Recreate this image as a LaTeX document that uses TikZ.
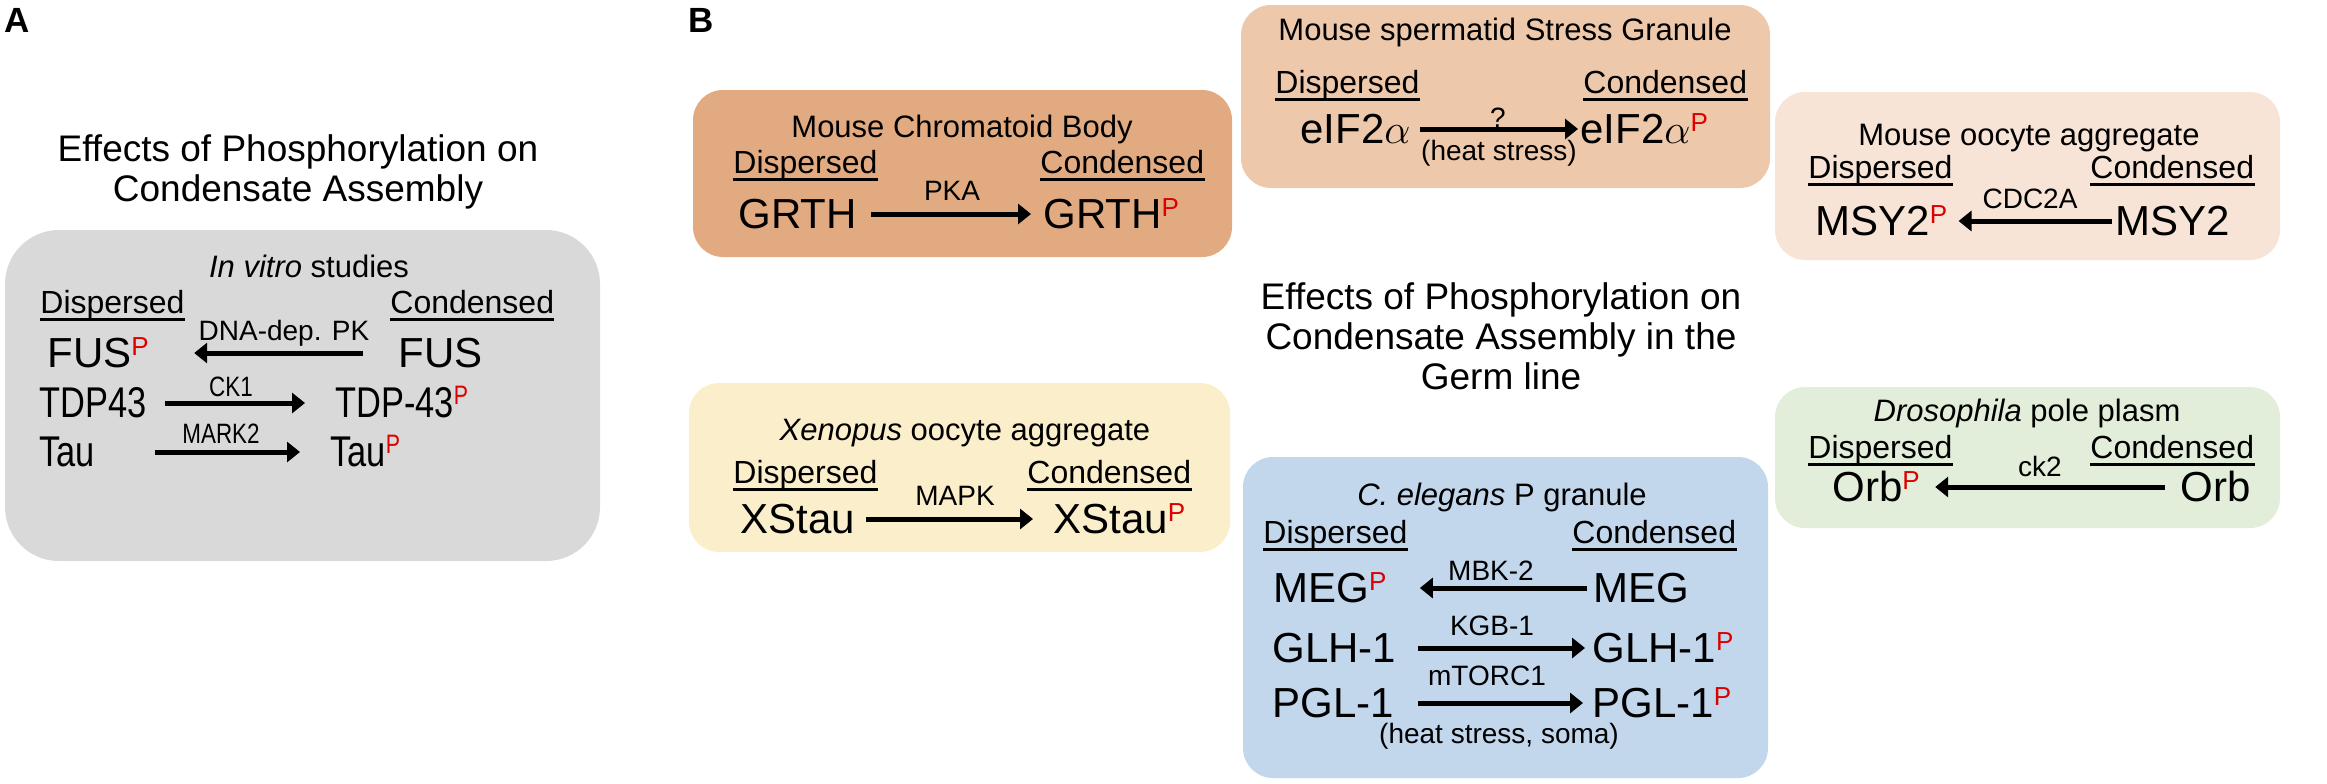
\documentclass[tikz,border=0pt]{standalone}
\usepackage{fontspec}
\setmainfont{Liberation Sans}
\newfontfamily\narrowsf[FakeStretch=0.8]{Liberation Sans}
\usetikzlibrary{arrows.meta}

\definecolor{pred}{RGB}{220,0,0}
\definecolor{boxgray}{RGB}{217,217,217}
\definecolor{boxbrown}{RGB}{226,170,128}
\definecolor{boxpeach}{RGB}{238,200,170}
\definecolor{boxcream}{RGB}{247,228,214}
\definecolor{boxyellow}{RGB}{251,238,203}
\definecolor{boxblue}{RGB}{194,214,236}
\definecolor{boxgreen}{RGB}{226,238,217}

\newcommand{\phos}{\textcolor{pred}{\raisebox{.28em}{\scalebox{.62}{P}}}}

\tikzset{
  panel/.style={rounded corners=15pt},
  letter/.style={anchor=base west,font=\fontsize{17.5}{17.5}\selectfont\bfseries},
  bigtitle/.style={anchor=north,align=center,font=\fontsize{18.5}{20}\selectfont},
  sub/.style={anchor=base,font=\fontsize{15.5}{15.5}\selectfont},
  hdr/.style={anchor=base west,text depth=0pt,font=\fontsize{16}{16}\selectfont},
  mol/.style={anchor=base west,text height=14pt,text depth=0pt,font=\fontsize{21}{21}\selectfont},
  nmol/.style={mol,font=\narrowsf\fontsize{21.5}{21.5}\selectfont},
  kin/.style={anchor=base,font=\fontsize{14}{14}\selectfont},
  nkin/.style={kin,font=\narrowsf\fontsize{14}{14}\selectfont},
  uline/.style={line width=1.5pt},
  parrow/.style={line width=2.5pt,-{Triangle[length=6.5pt,width=10pt]}}
}

\begin{document}
\begin{tikzpicture}[x=0.5pt,y=-0.5pt,every node/.style={inner sep=0}]
\useasboundingbox (0,0) rectangle (2327,783);

% panel A
\node[letter] (lA) at (4,32) {A};
\node[bigtitle] (tA) at (298,134) {Effects of Phosphorylation on\\Condensate Assembly};
\fill[boxgray,rounded corners=27pt] (5,230) rectangle (600,561);
\node[sub] (vitro) at (309,277) {\textit{In vitro} studies};
\node[hdr] (dA) at (40,313) {Dispersed};
\node[hdr] (cA) at (390,313) {Condensed};
\node[mol] (fusP) at (47,367) {FUS\phos};
\node[mol] (fus) at (398,367) {FUS};
\node[kin] (dnapk) at (284,340) {DNA-dep. PK};
\node[nmol] (tdp) at (39,417) {TDP43};
\node[nmol] (tdpP) at (335,417) {TDP-43\phos};
\node[nkin] (ck1) at (231,396) {CK1};
\node[nmol] (tau) at (39,466) {Tau};
\node[nmol] (tauP) at (330,466) {Tau\phos};
\node[nkin] (mark2) at (221,443) {MARK2};

% panel B
\node[letter] (lB) at (688,32) {B};
\node[bigtitle] (tB) at (1501,282) {Effects of Phosphorylation on\\Condensate Assembly in the\\Germ line};

% mouse chromatoid body
\fill[boxbrown,panel] (693,90) rectangle (1232,257);
\node[sub] (cbT) at (962,137) {Mouse Chromatoid Body};
\node[hdr] (cbD) at (733,173) {Dispersed};
\node[hdr] (cbC) at (1040,173) {Condensed};
\node[mol] (grth) at (738,228) {GRTH};
\node[mol] (grthP) at (1043,228) {GRTH\phos};
\node[kin] (pka) at (952,200) {PKA};

% mouse spermatid stress granule
\fill[boxpeach,panel] (1241,5) rectangle (1770,188);
\node[sub] (sgT) at (1505,40) {Mouse spermatid Stress Granule};
\node[hdr] (sgD) at (1275,93) {Dispersed};
\node[hdr] (sgC) at (1583,93) {Condensed};
\node[mol] (eif) at (1300,143) {eIF2$\alpha$};
\node[mol] (eifP) at (1580,143) {eIF2$\alpha$\phos};
\node[kin] (unk) at (1498,127) {?};
\node[kin] (heat) at (1499,160) {(heat stress)};

% mouse oocyte aggregate
\fill[boxcream,panel] (1775,92) rectangle (2280,260);
\node[sub] (moT) at (2029,145) {Mouse oocyte aggregate};
\node[hdr] (moD) at (1808,178) {Dispersed};
\node[hdr] (moC) at (2090,178) {Condensed};
\node[mol] (msyP) at (1815,235) {MSY2\phos};
\node[mol] (msy) at (2115,235) {MSY2};
\node[kin] (cdc) at (2030,208) {CDC2A};

% xenopus oocyte aggregate
\fill[boxyellow,panel] (689,383) rectangle (1230,552);
\node[sub] (xoT) at (965,440) {\textit{Xenopus} oocyte aggregate};
\node[hdr] (xoD) at (733,483) {Dispersed};
\node[hdr] (xoC) at (1027,483) {Condensed};
\node[mol] (xs) at (740,533) {XStau};
\node[mol] (xsP) at (1053,533) {XStau\phos};
\node[kin] (mapk) at (955,505) {MAPK};

% c. elegans p granule
\fill[boxblue,panel] (1243,457) rectangle (1768,778);
\node[sub] (ceT) at (1502,505) {\textit{C. elegans} P granule};
\node[hdr] (ceD) at (1263,543) {Dispersed};
\node[hdr] (ceC) at (1572,543) {Condensed};
\node[mol] (megP) at (1273,602) {MEG\phos};
\node[mol] (meg) at (1593,602) {MEG};
\node[kin] (mbk) at (1491,580) {MBK-2};
\node[mol] (glh) at (1272,662) {GLH-1};
\node[mol] (glhP) at (1592,662) {GLH-1\phos};
\node[kin] (kgb) at (1492,635) {KGB-1};
\node[mol] (pgl) at (1272,717) {PGL-1};
\node[mol] (pglP) at (1592,717) {PGL-1\phos};
\node[kin] (mtor) at (1487,685) {mTORC1};
\node[kin] (soma) at (1499,743) {(heat stress, soma)};

% drosophila pole plasm
\fill[boxgreen,panel] (1775,387) rectangle (2280,528);
\node[sub] (dpT) at (2027,421) {\textit{Drosophila} pole plasm};
\node[hdr] (dpD) at (1808,458) {Dispersed};
\node[hdr] (dpC) at (2090,458) {Condensed};
\node[mol] (orbP) at (1832,501) {Orb\phos};
\node[mol] (orb) at (2180,501) {Orb};
\node[kin] (ck2) at (2040,476) {ck2};

\foreach \h in {dA,cA,cbD,cbC,sgD,sgC,moD,moC,xoD,xoC,ceD,ceC,dpD,dpC}
 \draw[uline] ([yshift=-2.8pt]\h.south west) -- ([yshift=-2.8pt]\h.south east);

\foreach \f/\t/\a/\b in {fus/fusP/17.5pt/22.5pt,tdp/tdpP/9pt/15pt,tau/tauP/30pt/15pt,
  grth/grthP/7pt/6pt,eif/eifP/4.5pt/1pt,msy/msyP/1.5pt/5.5pt,xs/xsP/5.5pt/10pt,
  meg/megP/3pt/16.5pt,glh/glhP/10.5pt/3.5pt,pgl/pglP/12pt/4.5pt,orb/orbP/7.5pt/7.5pt}
 \draw[parrow,shorten <=\a,shorten >=\b] (\f) -- (\t);
\end{tikzpicture}
\end{document}
